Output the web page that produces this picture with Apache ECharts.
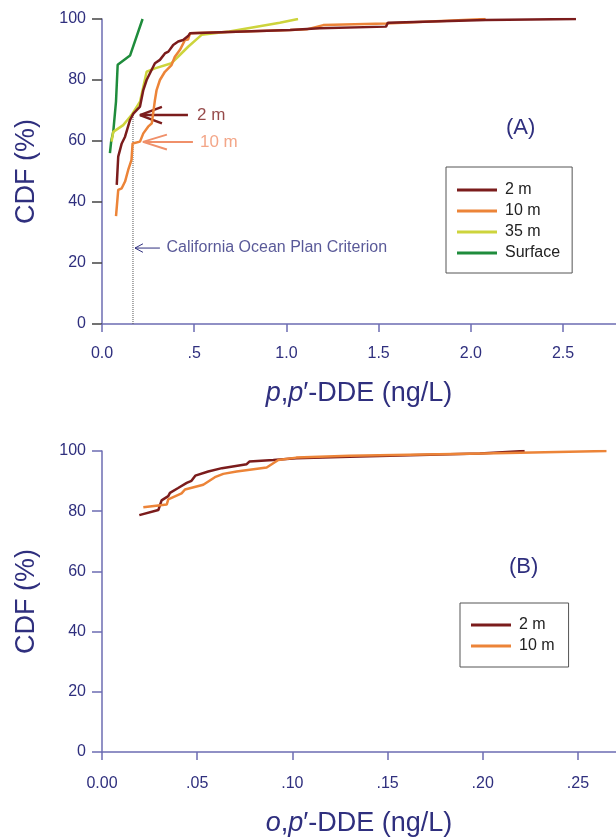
<!DOCTYPE html>
<html>
<head>
<meta charset="utf-8">
<script src="https://cdn.jsdelivr.net/npm/echarts@6/dist/echarts.min.js"></script>
<style>
  html, body { margin: 0; padding: 0; background: #fff; }
  #chart { width: 616px; height: 838px; }
</style>
</head>
<body>
<div id="chart"></div>
<script>
// CDF plots of p,p'-DDE (A) and o,p'-DDE (B)

// ---- panel A: p,p'-DDE (ng/L), CDF (%)
const ppXTicks = [0, 0.5, 1.0, 1.5, 2.0, 2.5]
const pp2m = [
  [0.08, 45.6], [0.088, 54.9], [0.107, 59.2], [0.125, 61.4], [0.152, 66.9], [0.17, 69],
  [0.206, 71.3], [0.224, 76.7], [0.242, 80], [0.26, 82.2], [0.287, 85.5], [0.314, 86.6],
  [0.341, 88.7], [0.36, 89.3], [0.386, 91.5], [0.413, 92.6], [0.44, 93.1], [0.467, 94.4],
  [0.477, 95.3], [1.02, 96.4], [1.18, 97], [1.54, 97.5], [1.55, 98.8], [2.08, 99.7], [2.57, 100],
]
const pp10m = [
  [0.076, 35.4], [0.088, 44], [0.107, 44.5], [0.125, 46.7], [0.142, 50.5], [0.16, 53.8],
  [0.166, 59.2], [0.206, 59.8], [0.224, 62.5], [0.25, 64.7], [0.27, 65.8], [0.287, 73.4],
  [0.296, 76.7], [0.314, 80], [0.341, 82.7], [0.377, 84.9], [0.395, 87.6], [0.422, 89.8],
  [0.45, 93.1], [0.467, 93.3], [0.477, 95.3], [1.02, 96.4], [1.11, 96.6], [1.2, 98],
  [1.54, 98.5], [2.08, 100],
]
const pp35m = [
  [0.052, 59.8], [0.061, 63], [0.115, 65.2], [0.16, 68.5], [0.206, 72.9], [0.224, 77.8],
  [0.242, 82.7], [0.287, 83.8], [0.377, 85.5], [0.422, 88.2], [0.467, 90.9], [0.54, 94.8],
  [0.69, 95.9], [0.964, 98.8], [1.063, 100],
]
const ppSurface = [
  [0.043, 56], [0.05, 60], [0.061, 63], [0.076, 73], [0.085, 85], [0.152, 88], [0.22, 100],
]
const criterion = 0.168   // California Ocean Plan Criterion (ng/L)

// ---- panel B: o,p'-DDE (ng/L), CDF (%)
const opXTicks = [0, 0.05, 0.10, 0.15, 0.20, 0.25]
const op2m = [
  [0.0196, 78.7], [0.0296, 80.4], [0.0313, 83.6], [0.0348, 85], [0.0357, 86.1], [0.04, 87.7],
  [0.0445, 89.4], [0.047, 90.1], [0.049, 91.8], [0.0558, 93.2], [0.063, 94.3], [0.076, 95.6],
  [0.0774, 96.5], [0.09, 97], [0.102, 97.6], [0.13, 98.1], [0.1985, 99.2], [0.222, 100],
]
const op10m = [
  [0.0217, 81.3], [0.0296, 81.9], [0.034, 82.2], [0.0348, 83.9], [0.0418, 85.9], [0.0436, 87.2],
  [0.0532, 88.8], [0.0593, 91.3], [0.0637, 92.4], [0.0707, 93.2], [0.0865, 94.5], [0.0926, 97],
  [0.102, 97.8], [0.13, 98.4], [0.2, 99.2], [0.265, 100],
]

const C2 = '#7b1c1c', C10 = '#ec8438', C35 = '#cdd43c', CS = '#1f8c3c'
const NAVY = '#2f2f7e', AXIS = '#6c6cb2'
const FONT = '"Liberation Sans", Arial, sans-serif'

function fmtX(dec) {
  return (v) => {
    let s = v.toFixed(dec)
    if (v > 0 && v < 1) s = s.slice(1)
    return s
  }
}

function xAxisOf(gridIndex, max, ticks, dec, nameRich, gap, margin) {
  return {
    gridIndex, type: 'value', min: 0, max,
    axisLine: { show: true, lineStyle: { color: AXIS, width: 1.5 } },
    axisTick: { show: true, length: 8, customValues: ticks, lineStyle: { color: AXIS, width: 1.5 } },
    axisLabel: { customValues: ticks, formatter: fmtX(dec), color: NAVY, fontSize: 16, fontFamily: FONT, margin },
    splitLine: { show: false },
    name: nameRich, nameLocation: 'middle', nameGap: gap,
    nameTextStyle: {
      color: NAVY, fontSize: 27, fontFamily: FONT,
      rich: { i: { fontStyle: 'italic', color: NAVY, fontSize: 27, fontFamily: FONT } },
    },
  }
}

function yAxisOf(gridIndex, tickColor) {
  return {
    gridIndex, type: 'value', min: 0, max: 100, interval: 20,
    axisLine: { show: true, lineStyle: { color: AXIS, width: 1.5 } },
    axisTick: { show: true, length: 10, lineStyle: { color: tickColor, width: 1.5 } },
    axisLabel: { color: NAVY, fontSize: 16, fontFamily: FONT, margin: 16 },
    splitLine: { show: false },
    name: 'CDF (%)', nameLocation: 'middle', nameGap: 62,
    nameTextStyle: { color: NAVY, fontSize: 27, fontFamily: FONT },
  }
}

function curve(name, data, color, idx) {
  return {
    name, type: 'line', data, xAxisIndex: idx, yAxisIndex: idx,
    showSymbol: false, symbol: 'none', smooth: false, silent: true,
    lineStyle: { color, width: 2.5 }, itemStyle: { color }, z: 3,
  }
}

// annotation path in panel A data space
function path(data, color, width, type) {
  return {
    type: 'line', data, xAxisIndex: 0, yAxisIndex: 0, symbol: 'none', silent: true,
    lineStyle: { color, width, type: type || 'solid' }, z: 2,
  }
}

function note(text, x, y, color, size) {
  return {
    type: 'scatter', data: [[x, y]], xAxisIndex: 0, yAxisIndex: 0, symbolSize: 0, silent: true,
    label: { show: true, position: 'right', distance: 0, formatter: text, color, fontSize: size, fontFamily: FONT },
  }
}

const legendText = { color: '#222', fontSize: 16, fontFamily: FONT, padding: [0, 0, 0, 3] }

const chart = echarts.init(document.getElementById('chart'))
chart.setOption({
  backgroundColor: '#fff',
  animation: false,
  textStyle: { fontFamily: FONT },
  grid: [
    { left: 102, right: 0, top: 19, height: 305 },
    { left: 102, right: 0, top: 451, height: 305 },
  ],
  xAxis: [
    xAxisOf(0, 2.787, ppXTicks, 1, '{i|p},{i|p}′-DDE (ng/L)', 56, 22),
    xAxisOf(1, 0.27, opXTicks, 2, '{i|o},{i|p}′-DDE (ng/L)', 58, 24),
  ],
  yAxis: [yAxisOf(0, '#444'), yAxisOf(1, AXIS)],
  title: [
    { text: '(A)', left: 501, top: 112, textStyle: { color: NAVY, fontSize: 22, fontWeight: 'normal', fontFamily: FONT } },
    { text: '(B)', left: 504, top: 551, textStyle: { color: NAVY, fontSize: 22, fontWeight: 'normal', fontFamily: FONT } },
  ],
  legend: [
    {
      data: ['2 m', '10 m', '35 m', 'Surface'], orient: 'vertical', left: 446, top: 167,
      icon: 'rect', itemWidth: 40, itemHeight: 3, itemGap: 5,
      padding: [15, 12, 12, 11], borderColor: '#555', borderWidth: 1,
      textStyle: legendText, selectedMode: false,
    },
    {
      data: ['2 m', '10 m'], orient: 'vertical', left: 460, top: 603,
      icon: 'rect', itemWidth: 40, itemHeight: 3, itemGap: 5,
      padding: [14, 14, 13, 11], borderColor: '#555', borderWidth: 1,
      textStyle: legendText, selectedMode: false,
    },
  ],
  series: [
    // criterion line and arrows
    path([[criterion, 0], [criterion, 68.5]], '#555', 1, 'dotted'),
    path([[0.179, 24.9], [0.314, 24.9]], NAVY, 1),
    path([[0.222, 26.3], [0.179, 24.9], [0.222, 23.5]], NAVY, 1),
    note('California Ocean Plan Criterion', 0.35, 24.9, NAVY, 16),
    path([[0.206, 68.5], [0.466, 68.5]], C2, 2.5),
    path([[0.325, 71.2], [0.206, 68.5], [0.325, 65.8]], C2, 2.5),
    note('2 m', 0.515, 68.5, C2, 17),
    path([[0.222, 59.7], [0.493, 59.7]], '#f0906a', 2),
    path([[0.352, 62.1], [0.222, 59.7], [0.352, 57.2]], '#f0906a', 2),
    note('10 m', 0.531, 59.7, '#f0906a', 17),
    // panel A curves
    curve('Surface', ppSurface, CS, 0),
    curve('35 m', pp35m, C35, 0),
    curve('10 m', pp10m, C10, 0),
    curve('2 m', pp2m, C2, 0),
    // panel B curves
    curve('2 m', op2m, C2, 1),
    curve('10 m', op10m, C10, 1),
  ],
})
</script>
</body>
</html>
